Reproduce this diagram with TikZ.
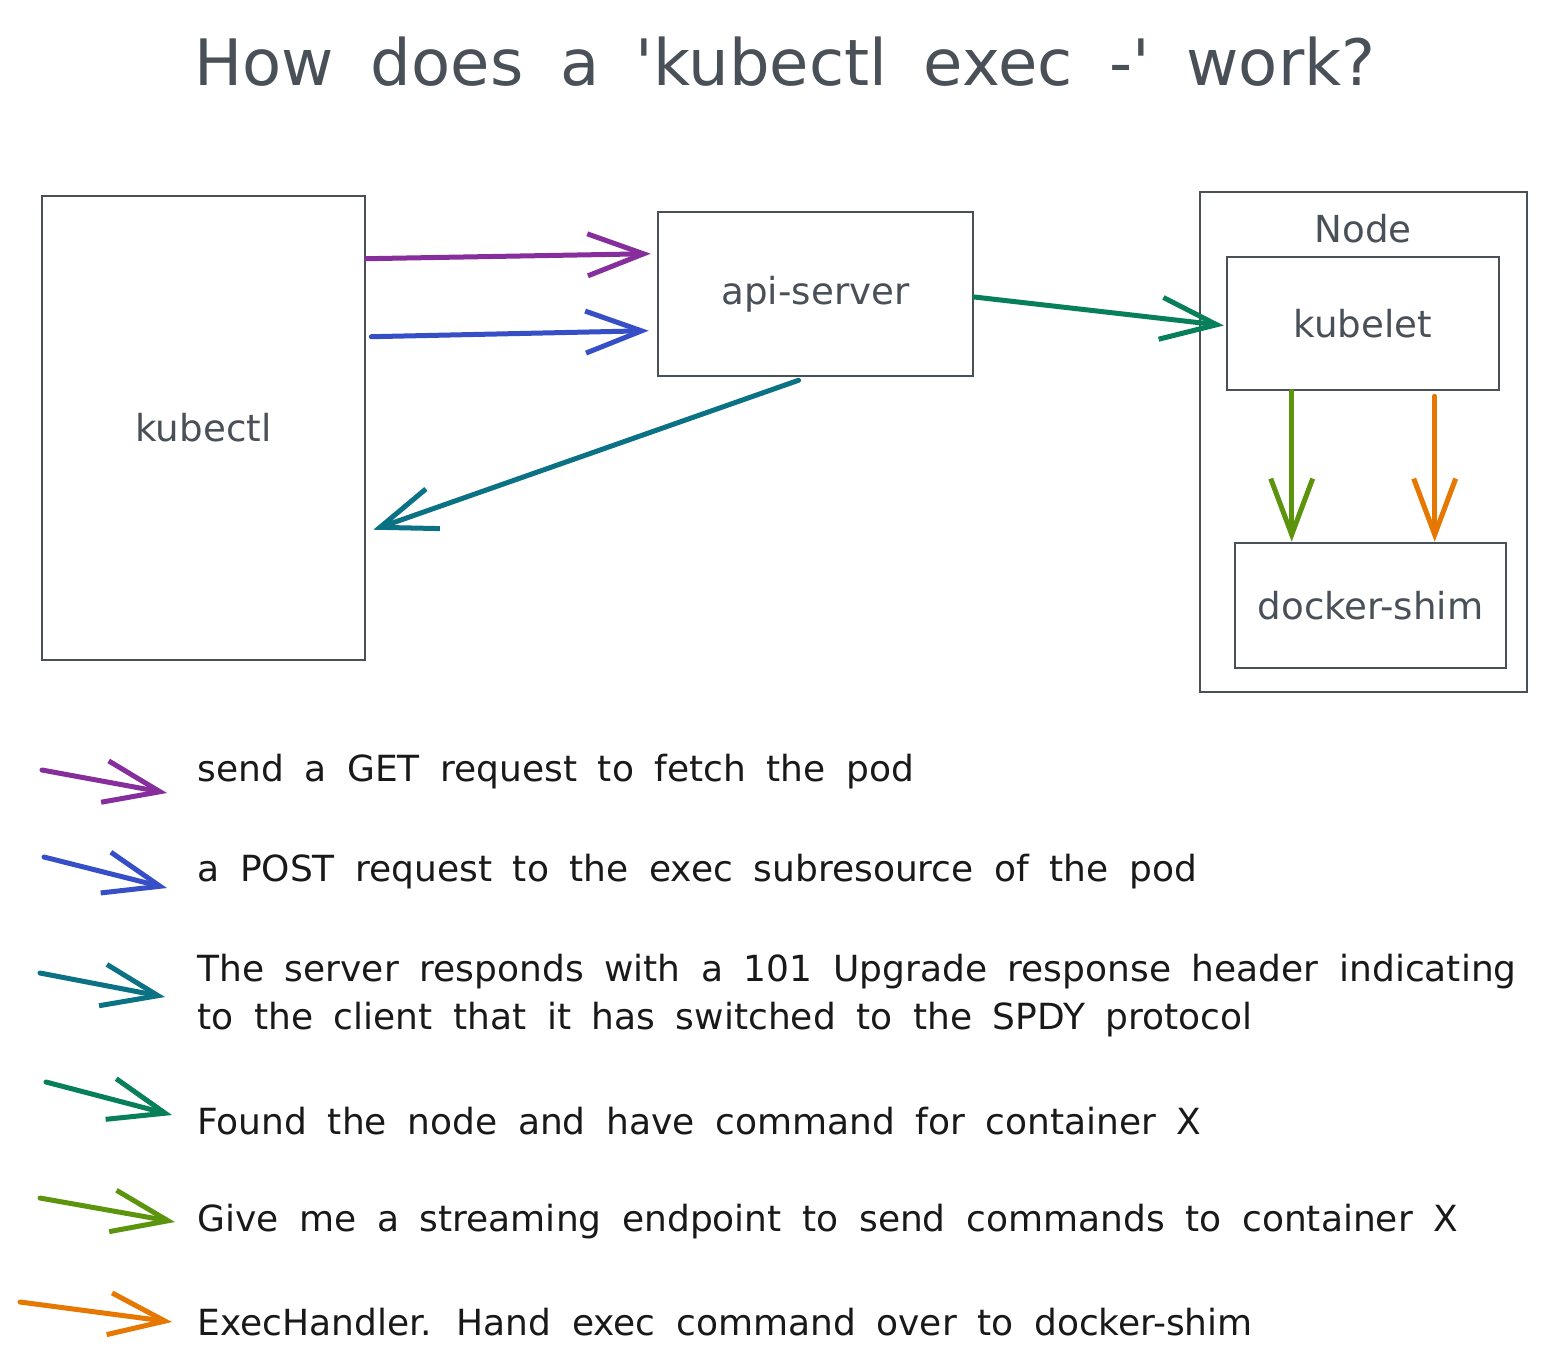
\documentclass[tikz,border=0pt]{standalone}
\usepackage{fontspec}
\setmainfont{DejaVu Sans}[WordSpace=1.8]
\usetikzlibrary{arrows.meta,calc}
\definecolor{ink}{HTML}{495057}
\definecolor{getc}{HTML}{862E9C}
\definecolor{postc}{HTML}{364FC7}
\definecolor{upgc}{HTML}{0B7285}
\definecolor{foundc}{HTML}{087F5B}
\definecolor{streamc}{HTML}{5C940D}
\definecolor{execc}{HTML}{E67700}
\tikzset{
    box/.style={draw=ink, line width=1.3pt, text=ink, inner sep=0pt,
        font=\fontsize{18.6}{22}\selectfont},
    flow/.style={line width=2.5pt, line cap=round,
        -{Straight Barb[length=28pt,width=21pt,line width=2.5pt]}},
    legend/.style={anchor=west, inner sep=0pt, align=left, text=black!90,
        font=\fontsize{18}{24}\selectfont},
}
\begin{document}
\begin{tikzpicture}[x=0.5pt,y=-0.5pt]
    \fill[white] (0,0) rectangle (1557,1366);
    \useasboundingbox (0,0) rectangle (1557,1366);
    % title
    \node[text=ink, font=\fontsize{32}{38}\selectfont] (title) at (785,62)
        {How does a \textquotesingle kubectl exec -\textquotesingle\ work?};
    % boxes
    \node[box, minimum width=161.5pt, minimum height=232pt] (kubectl) at (203.5,428) {kubectl};
    \node[box, minimum width=157.5pt, minimum height=82pt] (api) at (815.5,294) {api-server};
    \node[box, minimum width=163.5pt, minimum height=250pt] (node) at (1363.5,442) {};
    \node[text=ink, font=\fontsize{18.6}{22}\selectfont] (nodelabel) at (1363,229) {Node};
    \node[box, minimum width=136pt, minimum height=66.5pt] (kubelet) at (1363,323.5) {kubelet};
    \node[box, minimum width=135.5pt, minimum height=62.5pt] (shim) at (1370.5,605.5) {docker-shim};
    % flows
    \draw[flow, getc] ($(kubectl.north east)+(0,64)$) -- ($(api.north west)+(-6,43)$);
    \draw[flow, postc] ($(kubectl.north east)+(5,142)$) -- ($(api.north west)+(-8,120)$);
    \draw[flow, upgc] ($(api.south)+(-17,3)$) -- ($(kubectl.north east)+(7,335)$);
    \draw[flow, foundc] ($(api.east)+(0,3)$) -- ($(kubelet.west)+(-2,2)$);
    \draw[flow, streamc] ($(kubelet.south west)+(66,0)$) -- ($(shim.north west)+(58,0)$);
    \draw[flow, execc] ($(kubelet.south west)+(209,5)$) -- ($(shim.north west)+(201,0)$);
    % legend
    \node[legend] (l1) at (197,772) {send a GET request to fetch the pod};
    \node[legend] (l2) at (197,872) {a POST request to the exec subresource of the pod};
    \node[legend] (l3) at (197,996) {The server responds with a 101 Upgrade response header indicating\\
        to the client that it has switched to the SPDY protocol};
    \node[legend] (l4) at (197,1121) {Found the node and have command for container X};
    \node[legend] (l5) at (197,1222) {Give me a streaming endpoint to send commands to container X};
    \node[legend] (l6) at (197,1322) {ExecHandler. Hand exec command over to docker-shim};
    \coordinate (k1a) at (42,770);   \coordinate (k1b) at (167,793);
    \coordinate (k2a) at (44,857);   \coordinate (k2b) at (167,888);
    \coordinate (k3a) at (40,973);   \coordinate (k3b) at (165,997);
    \coordinate (k4a) at (46,1082);  \coordinate (k4b) at (172,1115);
    \coordinate (k5a) at (40,1198);  \coordinate (k5b) at (175,1222);
    \coordinate (k6a) at (20,1302);  \coordinate (k6b) at (172,1322);
    \draw[flow, getc] (k1a) -- (k1b);
    \draw[flow, postc] (k2a) -- (k2b);
    \draw[flow, upgc] (k3a) -- (k3b);
    \draw[flow, foundc] (k4a) -- (k4b);
    \draw[flow, streamc] (k5a) -- (k5b);
    \draw[flow, execc] (k6a) -- (k6b);
\end{tikzpicture}
\end{document}
